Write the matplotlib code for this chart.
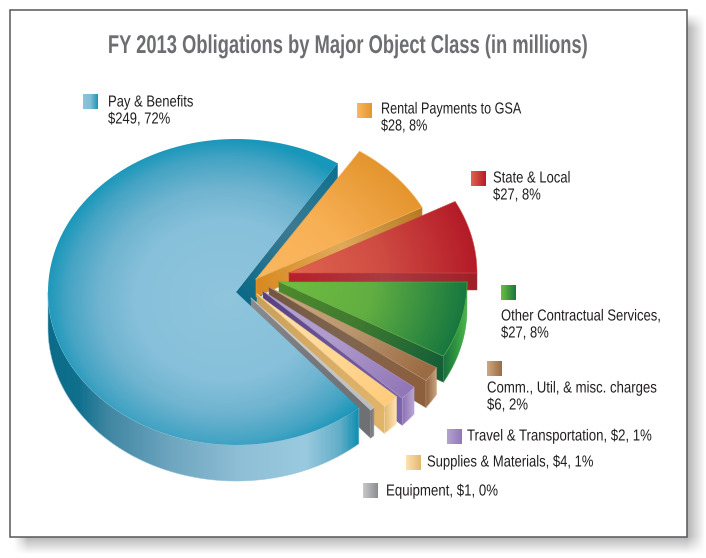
import matplotlib
matplotlib.use("Agg")
import matplotlib.pyplot as plt
from matplotlib.colors import LinearSegmentedColormap
from matplotlib.path import Path
from matplotlib.patches import PathPatch, Rectangle
from matplotlib.patheffects import AbstractPathEffect
from matplotlib.transforms import Affine2D
import numpy as np

title = "FY 2013 Obligations by Major Object Class (in millions)"
names = ["Pay & Benefits", "Rental Payments to GSA", "State & Local",
         "Other Contractual Services,", "Comm., Util, & misc. charges",
         "Travel & Transportation,", "Supplies & Materials,", "Equipment,"]
dollars = [249, 28, 27, 27, 6, 2, 4, 1]
pcts = [72, 8, 8, 8, 2, 1, 1, 0]
# share of the circle each slice really takes up in the picture, in percent
drawn_share = [70.42, 7.97, 7.75, 8.06, 1.56, 1.50, 1.44, 0.39]

W, H = 706, 558
RX, RY = 188, 153
START = 57.3

# degrees left open before each slice, apex in pixels, reach of the rim, height of the side
gaps = [0, 0.7, 0, 0, 1.6, 1.8, -1.3, 0.3]
apex = [(236, 292), (256, 279), (289, 273), (279, 282), (269, 287), (263, 291), (257, 294), (251, 298)]
reach = [1, 1, 1, 1, 1.035, 1.02, 1, 0.97]
depth = [36, 18, 17, 26, 27, 27, 27, 28]

top_cols = [None,
            ["#FBB860", "#F8B055", "#E4952E"],
            ["#E0654F", "#CF4C43", "#B41B28"],
            ["#6FBE40", "#62AE42", "#17783F"],
            ["#CDA983", "#BC9870", "#9B6B43"],
            ["#B5A3D0", "#AE9BCC", "#9277B8"],
            ["#FFE2B2", "#FFD998", "#FFCC7C"],
            ["#D0D2D4", "#C8CACC", "#B8BABC"]]
face_cols = [["#0A6A87", "#3E7A92", "#0A7190"],
             ["#D98A20", "#E0AA5C", "#B67A20"],
             ["#B81F2B", "#A93C42", "#A01F28"],
             ["#4E8A2C", "#3F7A30", "#155F38"],
             ["#735640", "#7F6550", "#8E5F3D"],
             ["#56407F", "#6A5596", "#7A63A8"],
             ["#C9A05A", "#D8AC64", "#E0B469"],
             ["#8A8C90", "#78797C", "#6E7073"]]
wall_cols = [[(0, "#0B6C8A"), (0.1, "#10708E"), (0.19, "#3F86A2"), (0.4, "#6FA6C0"), (0.62, "#8FBFD6"),
              (0.83, "#9ACADF"), (0.94, "#62AEC8"), (1, "#1090B2")],
             ["#B4701A", "#B4701A"],
             ["#A01F28", "#A01F28"],
             ["#1A6F3C", "#2E9440", "#4CB848"],
             ["#8F6240", "#C9A47E"],
             ["#8D71B5", "#B9A6D5"],
             ["#E2B86E", "#FFE2B5"],
             ["#74767A", "#8A8C90"]]
swatch_cols = [["#8CC4DC", "#82BDD6", "#1E95B6"],
               ["#FBB860", "#E4952E"],
               ["#E0654F", "#B41B28"],
               ["#6FBE40", "#17783F"],
               ["#CDA983", "#9B6B43"],
               ["#B5A3D0", "#9277B8"],
               ["#FFE2B2", "#E2B86E"],
               ["#C8CACC", "#8A8C90"]]

swatch_pos = [(83, 94), (357, 103), (471, 171), (501, 285), (487, 361), (447, 429), (406, 455), (363, 483)]
label_pos = [(108, 102), (381, 109), (493, 178), (501, 316), (487, 388), (467, 436), (427, 462), (386, 491)]
squeeze = [0.815, 0.79, 0.815, 0.815, 0.825, 0.825, 0.815, 0.83]

plt.rcParams["font.family"] = ["Liberation Sans", "DejaVu Sans"]

fig = plt.figure(figsize=(W / 100, H / 100), dpi=100)
ax = fig.add_axes([0, 0, 1, 1])
ax.set_xlim(0, W)
ax.set_ylim(H, 0)
ax.axis("off")
ax.set_autoscale_on(False)

z = [1]


def next_z():
    z[0] += 1
    return z[0]


class Squeeze(AbstractPathEffect):
    # no condensed face installed, so narrow the glyphs around x0
    def __init__(self, sx, x0):
        super().__init__()
        self.sx = sx
        self.x0 = x0

    def draw_path(self, renderer, gc, tpath, affine, rgbFace=None):
        a = affine + Affine2D().translate(-self.x0, 0).scale(self.sx, 1).translate(self.x0, 0)
        renderer.draw_path(gc, tpath, a, rgbFace)


def grad_field(box, p0=None, p1=None, center=None, radii=None):
    x0, y0, x1, y1 = box
    xs = np.arange(x0, x1 + 1) + 0.5
    ys = np.arange(y0, y1 + 1) + 0.5
    xx, yy = np.meshgrid(xs, ys)
    if center is not None:
        t = np.hypot((xx - center[0]) / radii[0], (yy - center[1]) / radii[1])
    else:
        dx, dy = p1[0] - p0[0], p1[1] - p0[1]
        t = ((xx - p0[0]) * dx + (yy - p0[1]) * dy) / (dx * dx + dy * dy)
    return np.clip(t, 0, 1)


def fill(verts, stops, edge=True, **kw):
    verts = np.asarray(verts)
    box = (int(verts[:, 0].min()) - 1, int(verts[:, 1].min()) - 1,
           int(verts[:, 0].max()) + 1, int(verts[:, 1].max()) + 1)
    t = grad_field(box, **kw)
    cmap = LinearSegmentedColormap.from_list("c", stops)
    patch = PathPatch(Path(np.vstack([verts, verts[:1]])), fc="none", ec="none", transform=ax.transData)
    ax.add_patch(patch)
    im = ax.imshow(t, cmap=cmap, vmin=0, vmax=1, aspect="auto", interpolation="bilinear",
                   extent=(box[0], box[2] + 1, box[3] + 1, box[1]), zorder=next_z())
    im.set_clip_path(patch)
    if edge:
        # soften the jagged clip edge
        mid = stops[len(stops) // 2]
        if isinstance(mid, tuple):
            mid = mid[1]
        ax.plot(*np.vstack([verts, verts[:1]]).T, color=mid, lw=0.5, alpha=0.7, zorder=next_z())


def arc(i, a0, a1, n=80):
    c = apex[i]
    a = np.radians(np.linspace(a0, a1, n))
    return np.column_stack([c[0] + reach[i] * RX * np.cos(a), c[1] - reach[i] * RY * np.sin(a)])


def draw_faces(i, a0, a1):
    # a0 is the clockwise end, a1 the counterclockwise end
    c = np.array(apex[i], float)
    d = np.array([0, depth[i]])
    p = arc(i, a0, a0, 1)[0]
    q = arc(i, a1, a1, 1)[0]
    if i == 0:
        fill([c, q, q + d, c + d], face_cols[i], p0=c, p1=q)
    else:
        fill([c, p, p + d, c + d], face_cols[i], p0=c, p1=p)


def draw_wall(i, a0, a1):
    d = np.array([0, depth[i]])
    lo, hi = max(a0, -180), min(a1, 0)
    if i == 0:
        lo, hi = -180, a0
    if hi <= lo:
        return
    pts = arc(i, lo, hi)
    poly = np.vstack([pts, pts[::-1] + d])
    xmin, xmax = poly[:, 0].min(), poly[:, 0].max()
    if xmax - xmin < 1:
        xmax = xmin + 1
    fill(poly, wall_cols[i], p0=(xmin, 0), p1=(xmax, 0))


def draw_top(i, a0, a1):
    c = apex[i]
    if i == 0:
        poly = np.vstack([[c], arc(i, a1, a0 + 360, 240)])
        fill(poly, [(0, "#8FC5DD"), (0.5, "#87C0DA"), (0.7, "#6FB4D0"), (0.88, "#45A4C4"), (1, "#1797BA")],
             edge=False, center=(225, 300), radii=(180, 161))
    else:
        poly = np.vstack([[c], arc(i, a0, a1, 30)])
        fill(poly, top_cols[i], center=c, radii=(RX, RY))


# shadow and frame
xx, yy = np.meshgrid(np.arange(W) + 0.5, np.arange(H) + 0.5)
sh = np.clip((705 - xx) / 18, 0, 1) * np.clip((xx - 14) / 14, 0, 1) \
    * np.clip((554 - yy) / 18, 0, 1) * np.clip((yy - 14) / 14, 0, 1)
rgba = np.zeros((H, W, 4))
rgba[..., :3] = 0.45
rgba[..., 3] = sh * 0.55
ax.imshow(rgba, extent=(0, W, H, 0), aspect="auto", zorder=next_z())
ax.add_patch(Rectangle((9.5, 9.5), 677, 527, fc="white", ec="#58595B", lw=1.1, zorder=next_z()))

# angles of each slice from the shares, clockwise from START
a_hi = START
angles = [None] * len(drawn_share)
angles[0] = (START + drawn_share[0] * 3.6 - 360, START)
for i in range(1, len(drawn_share)):
    a_hi -= gaps[i]
    a_lo = a_hi - drawn_share[i] * 3.6
    angles[i] = (a_lo, a_hi)
    a_hi = a_lo

# the cut side of the big slice sits behind the others, its top in front
draw_faces(0, *angles[0])
for i in range(1, len(drawn_share)):
    a0, a1 = angles[i]
    draw_faces(i, a0, a1)
    draw_wall(i, a0, a1)
    draw_top(i, a0, a1)
draw_wall(0, *angles[0])
draw_top(0, *angles[0])

# legend swatches and labels
text_kw = dict(fontsize=11.5, color="#231F20", va="center", ha="left", zorder=500)
for i in range(len(names)):
    x, y = swatch_pos[i]
    s = [(x, y), (x + 15, y), (x + 15, y + 15), (x, y + 15)]
    fill(s, swatch_cols[i], edge=False, p0=(x, 0), p1=(x + 15, 0))
    amount = f"${dollars[i]}, {pcts[i]}%"
    lx, ly = label_pos[i]
    effect = [Squeeze(squeeze[i], lx)]
    if i < 5:
        ax.text(lx, ly, names[i], path_effects=effect, **text_kw)
        ax.text(lx, ly + 17, amount, path_effects=effect, **text_kw)
    else:
        ax.text(lx, ly, names[i] + " " + amount, path_effects=effect, **text_kw)

ax.text(348, 46, title, fontsize=18.5, fontweight="bold", color="#6D6E71", ha="center", va="center",
        zorder=500, path_effects=[Squeeze(0.714, 348)])

fig.savefig("out.png", dpi=100)
